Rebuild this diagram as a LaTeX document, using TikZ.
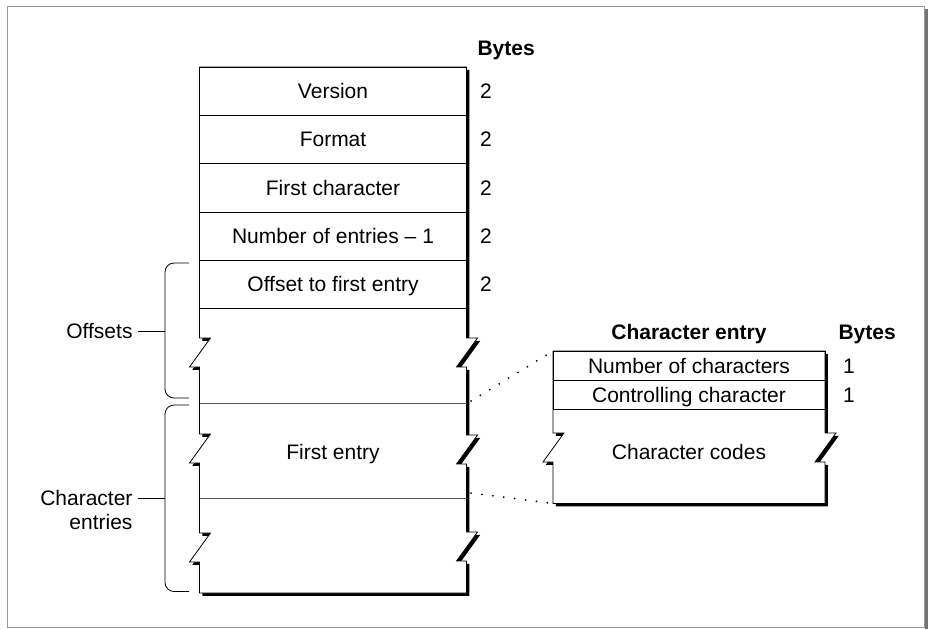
\documentclass[tikz,border=0pt]{standalone}
\usepackage{fontspec}
\setmainfont{Liberation Sans}
\usetikzlibrary{positioning,shadows}

\tikzset{
  txt/.style={font=\fontsize{21}{23.7}\selectfont, inner sep=0pt, outer sep=0pt},
  num/.style={txt, text height=15pt, text depth=0pt},
  hdr/.style={num, font=\fontsize{21}{23.7}\selectfont\bfseries},
  cell/.style={num, draw, line width=0.8pt, minimum width=267pt, minimum height=48.3pt},
  subcell/.style={cell, minimum width=272pt, minimum height=29.2pt},
  brk/.style={insert path={-- ++(11,0) -- ++(-21,29) -- ++(10,0)}},
  brkup/.style={insert path={-- ++(-10,0) -- ++(21,-29) -- ++(-11,0)}},
  chunk/.style={draw, fill=white, line width=0.8pt,
    drop shadow={shadow xshift=2.8pt, shadow yshift=-2.8pt, opacity=1, fill=black}},
  sep/.style={draw=black!65, line width=0.7pt},
  brace/.style={draw, line width=0.8pt, rounded corners=9pt},
  tick/.style={draw, line width=0.8pt},
  zoomline/.style={line width=2pt, line cap=round, dash pattern=on 0pt off 11pt}
}

\begin{document}
\begin{tikzpicture}[x=1pt, y=-1pt]
    \useasboundingbox (0,0) rectangle (928,629);

    % frame
    \draw[black!40, line width=0.8pt] (7,6.5) rectangle (924,627.5);
    \fill[black!55] (924.5,9) rectangle (928,629);

    % main table outline
    \path[chunk] (199.5,67) -- (466.5,67) -- (466.5,338) [brk] -- (466.5,435) [brk]
        -- (466.5,532) [brk] -- (466.5,593) -- (199.5,593) -- (199.5,562) [brkup]
        -- (199.5,463) [brkup] -- (199.5,367) [brkup] -- cycle;
    \draw[sep] (199.5,403) -- (466.5,403);
    \draw[sep] (199.5,498) -- (466.5,498);

    \coordinate (top) at (333,67);
    \node[cell, below=0pt of top] (version) {Version};
    \node[cell, below=0pt of version] (format) {Format};
    \node[cell, below=0pt of format] (firstchar) {First character};
    \node[cell, below=0pt of firstchar] (numentries) {Number of entries – 1};
    \node[cell, below=0pt of numentries] (offset) {Offset to first entry};
    \node[num] (firstentry) at (333,451.5) {First entry};

    % byte counts
    \node[hdr, anchor=west] (bytes) at (477.5,48) {Bytes};
    \node[num, right=13.5pt of version] (b1) {2};
    \node[num, right=13.5pt of format] (b2) {2};
    \node[num, right=13.5pt of firstchar] (b3) {2};
    \node[num, right=13.5pt of numentries] (b4) {2};
    \node[num, right=13.5pt of offset] (b5) {2};

    % braces
    \draw[brace] (189,263) -- (165,263) -- (165,398) -- (189,398);
    \draw[brace] (189,405) -- (165,405) -- (165,591.5) -- (189,591.5);
    \coordinate (offbrace) at (165,331);
    \coordinate (cebrace) at (165,498.5);
    \node[num, anchor=east] (offsets) at (132.5,331) {Offsets};
    \node[txt, anchor=east, align=right] (charentries) at (132.5,509.9) {Character\\entries};
    \draw[tick, shorten <=5.5pt] (offsets.east) -- (offbrace);
    \draw[tick, shorten <=5.5pt] (charentries.east |- cebrace) -- (cebrace);

    % character entry
    \path[chunk] (553,351) -- (825,351) -- (825,433) [brk] -- (825,503.5)
        -- (553,503.5) -- (553,462) [brkup] -- cycle;
    \coordinate (subtop) at (689,351);
    \node[subcell, below=0pt of subtop] (numchars) {Number of characters};
    \node[subcell, below=0pt of numchars] (ctrlchar) {Controlling character};
    \node[num, below=34.7pt of ctrlchar] (codes) {Character codes};
    \node[hdr, above=11.8pt of numchars] (entryhdr) {Character entry};
    \node[hdr, anchor=west] (subbytes) at (838.5,331.7) {Bytes};
    \node[num, right=18pt of numchars] (c1) {1};
    \node[num, right=18pt of ctrlchar] (c2) {1};

    % zoom lines
    \coordinate (ftop) at (471,401);
    \coordinate (fbot) at (471,493);
    \coordinate (cbot) at (553,503.5);
    \draw[zoomline] (ftop) -- (numchars.north west);
    \draw[zoomline] (fbot) -- (cbot);
\end{tikzpicture}
\end{document}
